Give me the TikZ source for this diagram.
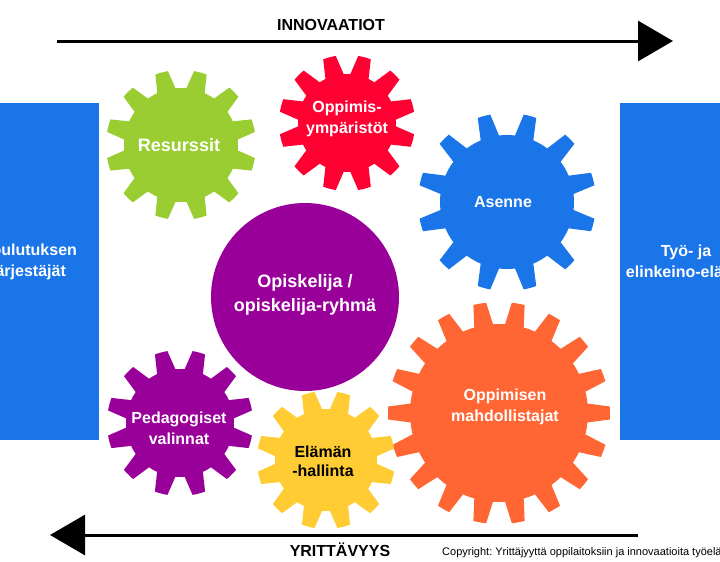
\documentclass[tikz,border=0pt]{standalone}
\usepackage{fontspec}
\setmainfont{Liberation Sans}
\frenchspacing
\usetikzlibrary{positioning,arrows.meta}
\definecolor{gearGreen}{RGB}{154,205,50}
\definecolor{gearRed}{RGB}{255,0,51}
\definecolor{gearBlue}{RGB}{26,117,232}
\definecolor{gearOrange}{RGB}{255,102,51}
\definecolor{gearPurple}{RGB}{153,0,153}
\definecolor{gearYellow}{RGB}{255,204,51}
\tikzset{
  geartext/.style={text=white, font=\bfseries\fontsize{16}{21}\selectfont, align=center, inner sep=0pt
  },
  bigtext/.style={text=white, font=\bfseries\fontsize{18}{24}\selectfont, align=center, inner sep=0pt
  },
  sidebox/.style={fill=gearBlue, minimum height=337pt, inner sep=0pt
  },
  bigarrow/.style={line width=3pt, -{Triangle[length=35pt,width=40pt]}
  },
  arrowtext/.style={font=\bfseries\fontsize{16}{19}\selectfont, inner sep=0pt
  }
}
% colour, x, y, outer radius, inner radius, teeth, offset
\newcommand{\gearwheel}[7]{%
  \begin{scope}[shift={(#2,#3)}]
    \pgfmathsetmacro{\gstep}{360/#6}
    \pgfmathsetmacro{\gtip}{deg(6.5/#4)}
    \pgfmathsetmacro{\gbase}{deg(9.5/#5)}
    \fill[#1] ({#7-\gbase}:#5)
      \foreach \gi in {1,...,#6}{
        -- ({#7+(\gi-1)*\gstep-\gtip}:#4)
        arc[start angle={#7+(\gi-1)*\gstep-\gtip}, end angle={#7+(\gi-1)*\gstep+\gtip}, radius=#4]
        -- ({#7+(\gi-1)*\gstep+\gbase}:#5)
        arc[start angle={#7+(\gi-1)*\gstep+\gbase}, end angle={#7+\gi*\gstep-\gbase}, radius=#5]
      } -- cycle;
  \end{scope}}

\begin{document}
\begin{tikzpicture}[x=1pt,y=-1pt]
 \useasboundingbox (0,0) rectangle (720,562);
 \clip (0,0) rectangle (720,562);

 \node[sidebox, minimum width=141pt] at (28.5,271.5) (koulutus) {};
 \node[sidebox, minimum width=132pt] at (686,271.5) (elinkeino) {};
 \node[geartext, align=center] at ([yshift=10pt]koulutus.center) (koulutusteksti) {Koulutuksen\\järjestäjät};
 \node[geartext, align=center] at ([yshift=10pt]elinkeino.center) (elinkeinoteksti) {Työ- ja\\elinkeino-elämä};

 \gearwheel{gearGreen}{181}{145}{75}{57}{12}{15}
 \gearwheel{gearRed}{347}{123}{68}{49}{12}{15}
 \gearwheel{gearBlue}{507}{202}{89}{67}{12}{15}
 \gearwheel{gearOrange}{499}{413}{111}{89}{18}{0}
 \gearwheel{gearPurple}{180}{423}{73}{54}{12}{15}
 \gearwheel{gearYellow}{326}{460}{69}{51}{12}{15}

 \node[circle, fill=gearPurple, minimum size=188pt, inner sep=0pt] at (305,297) (opiskelija) {};
 \node[bigtext] at (305,295) (opiskelijateksti) {Opiskelija /\\opiskelija-ryhmä};
 \node[bigtext] at (179,145) (resurssit) {Resurssit};
 \node[geartext] at (347,119) (ymparistot) {Oppimis-\\ympäristöt};
 \node[geartext] at (503,202) (asenne) {Asenne};
 \node[geartext] at (505,407) (mahdollistajat) {Oppimisen\\mahdollistajat};
 \node[geartext] at (179,428) (pedagogiset) {Pedagogiset\\valinnat};
 \node[geartext, text=black, font=\bfseries\fontsize{16}{19}\selectfont] at (323,461) (elamanhallinta) {Elämän\\-hallinta};

 \coordinate (innoalku) at (57,41);
 \coordinate (innoloppu) at (673,41);
 \coordinate (yrittalku) at (638,535);
 \coordinate (yrittloppu) at (50,535);
 \draw[bigarrow] (innoalku) -- (innoloppu);
 \draw[bigarrow] (yrittalku) -- (yrittloppu);
 \node[arrowtext] at (331,25) (innovaatiot) {INNOVAATIOT};
 \node[arrowtext] at (340,550) (yrittavyys) {YRITTÄVYYS};
 \node[anchor=west, inner sep=0pt, font=\fontsize{11}{13}\selectfont] at (442,553) (copyright) {Copyright: Yrittäjyyttä oppilaitoksiin ja innovaatioita työelämään};
\end{tikzpicture}
\end{document}
